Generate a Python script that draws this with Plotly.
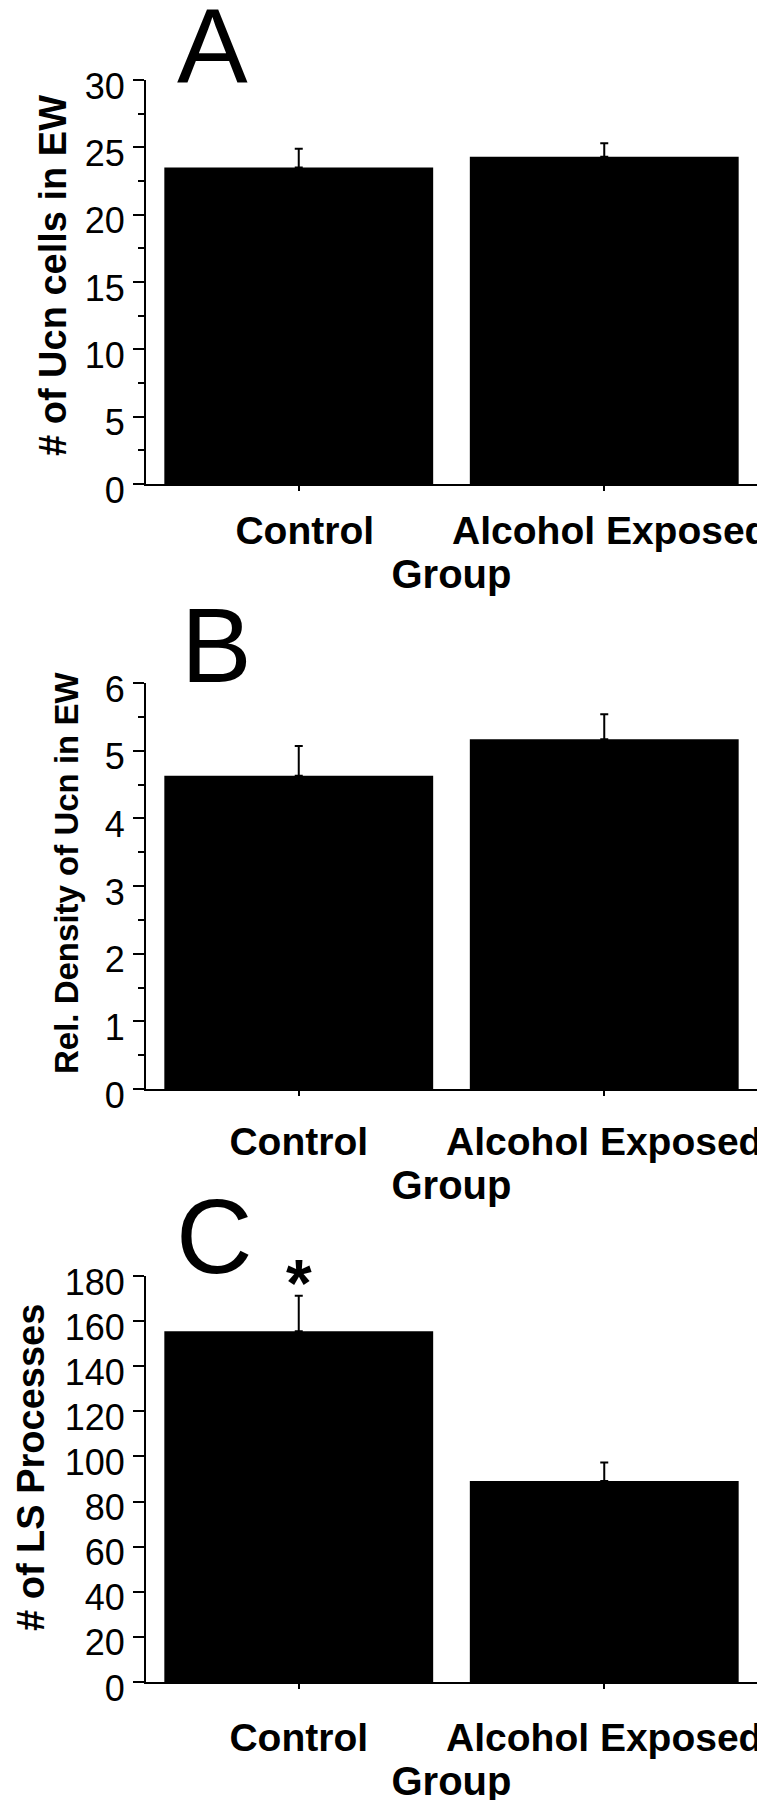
import plotly.graph_objects as go

W, H = 765, 1800
OFF = 8  # page body margin shifts the figure by this much

groups = ["Control", "Alcohol Exposed"]

ucn_cells = [23.5, 24.3]
ucn_cells_err = [1.4, 1.0]

ucn_density = [4.63, 5.17]
ucn_density_err = [0.44, 0.37]

ls_processes = [155.5, 89.1]
ls_processes_err = [15.7, 8.2]

panel_letters = ["A", "B", "C"]
y_titles = ["# of Ucn cells in EW", "Rel. Density of Ucn in EW", "# of LS Processes"]

FONT = "Arial, Liberation Sans, sans-serif"


def px_x(p):
    return (p - OFF) / W


def px_y(p):
    return 1 - (p - OFF) / H


# plot boxes in screen pixels (top, bottom)
boxes = [(80, 484), (683, 1089), (1276, 1682)]
x_dom = [px_x(146), px_x(757)]

panels = [
    (ucn_cells, ucn_cells_err, [0, 30], 5, 2.5),
    (ucn_density, ucn_density_err, [0, 6], 1, 0.5),
    (ls_processes, ls_processes_err, [0, 180], 20, None),
]

fig = go.Figure()
ann = []

for i, (vals, errs, yr, dt, mdt) in enumerate(panels):
    n = "" if i == 0 else str(i + 1)
    xa, ya = "x" + n, "y" + n
    fig.add_trace(go.Bar(
        x=groups, y=vals, xaxis=xa, yaxis=ya, width=0.88,
        marker=dict(color="black", line=dict(width=0)),
        error_y=dict(type="data", symmetric=False, array=errs, arrayminus=[0, 0],
                     color="black", thickness=2, width=4),
        showlegend=False,
    ))
    top, bot = boxes[i]
    yax = dict(
        domain=[px_y(bot), px_y(top)], range=yr, anchor=xa, automargin=False,
        dtick=dt, tick0=0, ticks="outside", ticklen=11, tickwidth=2, tickcolor="black",
        showline=True, linewidth=2, linecolor="black",
        showgrid=False, zeroline=False,
        tickfont=dict(family=FONT, size=36, color="black"),
        ticklabelshift=6, ticklabelstandoff=1,
    )
    if mdt:
        yax["minor"] = dict(dtick=mdt, ticks="outside", ticklen=6, tickwidth=2,
                            tickcolor="black", showgrid=False)
    xax = dict(
        domain=x_dom, range=[-0.5, 1.5], anchor=ya, type="category", automargin=False,
        ticks="outside", ticklen=5, tickwidth=2, tickcolor="black",
        showline=True, linewidth=2, linecolor="black",
        showgrid=False, zeroline=False,
        tickfont=dict(family=FONT, size=39, color="black", weight="bold"),
        ticklabelstandoff=[6, 12, 15][i], ticklabelshift=[6, 0, 0][i],
        title=dict(text="Group", standoff=2,
                   font=dict(family=FONT, size=40, color="black", weight="bold")),
    )
    fig.update_layout({"yaxis" + n: yax, "xaxis" + n: xax})

    # panel letter
    ann.append(dict(
        text=panel_letters[i], xref="paper", yref="paper",
        x=px_x([212, 217, 214][i]), y=px_y([45, 645, 1236][i]),
        xanchor="center", yanchor="middle",
        showarrow=False, font=dict(family=FONT, size=106, color="black"),
    ))
    # y axis title
    ann.append(dict(
        text=y_titles[i], xref="paper", yref="paper", textangle=-90,
        x=px_x([53, 66, 31][i]), y=px_y([276, 873, 1468][i]),
        xanchor="center", yanchor="middle", showarrow=False,
        font=dict(family=FONT, size=[38, 33, 38][i], color="black", weight="bold"),
    ))

# significance marker
ann.append(dict(
    text="*", x="Control", y=ls_processes[0] + ls_processes_err[0], xref="x3", yref="y3",
    yanchor="bottom", yshift=-26, showarrow=False,
    font=dict(family=FONT, size=66, color="black", weight="bold"),
))

fig.update_layout(
    width=W, height=H,
    margin=dict(l=0, r=0, t=0, b=0, autoexpand=False),
    paper_bgcolor="white", plot_bgcolor="white",
    annotations=ann,
    bargap=0.12,
)

fig.write_html("out.html")
